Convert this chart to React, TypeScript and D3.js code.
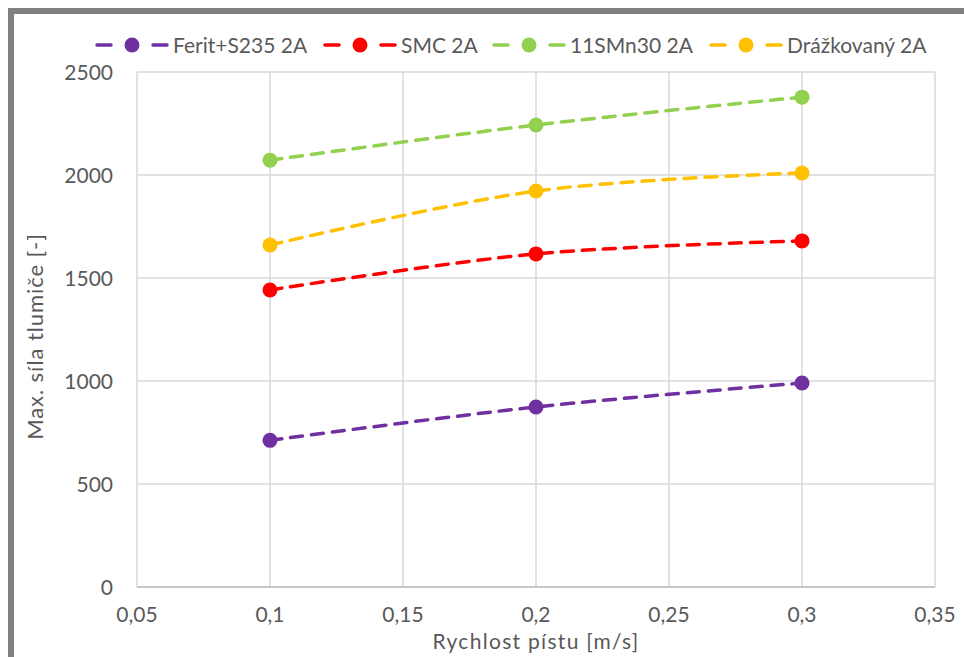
import React from "react";
import * as d3 from "d3";

const speeds = [0.1, 0.2, 0.3];
const seriesNames = ["Ferit+S235 2A", "SMC 2A", "11SMn30 2A", "Drážkovaný 2A"];
const seriesColors = ["#7030A0", "#FF0000", "#92D050", "#FFC000"];
const feritValues = [712, 874, 990];
const smcValues = [1442, 1617, 1680];
const smnValues = [2072, 2243, 2378];
const drazValues = [1660, 1922, 2010];
const xTicks = [0.05, 0.1, 0.15, 0.2, 0.25, 0.3, 0.35];
const yTicks = [0, 500, 1000, 1500, 2000, 2500];

const allValues = [feritValues, smcValues, smnValues, drazValues];

const W = 964;
const H = 657;
const plot = { left: 137, right: 935, top: 72, bottom: 587 };
const FONT = "Lato, 'Open Sans', sans-serif";
const TEXT = "#595959";

export default function App() {
  const x = d3.scaleLinear().domain([0.05, 0.35]).range([plot.left, plot.right]);
  const y = d3.scaleLinear().domain([0, 2500]).range([plot.bottom, plot.top]);
  const line = d3
    .line<[number, number]>()
    .x((d) => x(d[0]))
    .y((d) => y(d[1]))
    .curve(d3.curveCardinal.tension(0));
  const fmt = (v: number) => String(v).replace(".", ",");

  const legendX = [97, 325, 494, 711];

  return (
    <svg
      width={W}
      height={H}
      style={{ position: "absolute", left: 0, top: 0, background: "#fff" }}
      fontFamily={FONT}
    >
      <rect x={11} y={11} width={1100} height={800} fill="#fff" stroke="#808080" strokeWidth={6} />
      {xTicks.map((t) => (
        <line key={"gx" + t} x1={x(t)} x2={x(t)} y1={plot.top} y2={plot.bottom} stroke="#d9d9d9" strokeWidth={1.5} />
      ))}
      {yTicks.map((t) => (
        <line key={"gy" + t} x1={plot.left} x2={plot.right} y1={y(t)} y2={y(t)} stroke="#d9d9d9" strokeWidth={1.5} />
      ))}
      <line x1={plot.left} x2={plot.right} y1={plot.bottom} y2={plot.bottom} stroke="#bfbfbf" strokeWidth={1.5} />
      {yTicks.map((t) => (
        <text key={"ty" + t} x={plot.left - 24} y={y(t) + 7.5} textAnchor="end" fontSize={21} fill={TEXT}>
          {t}
        </text>
      ))}
      {xTicks.map((t) => (
        <text key={"tx" + t} x={x(t)} y={622} textAnchor="middle" fontSize={21} fill={TEXT}>
          {fmt(t)}
        </text>
      ))}
      <text
        x={(plot.left + plot.right) / 2}
        y={649}
        textAnchor="middle"
        fontSize={21}
        letterSpacing={1.3}
        fill={TEXT}
      >
        Rychlost pístu [m/s]
      </text>
      <text
        transform={`translate(35,${(plot.top + plot.bottom) / 2 + 7}) rotate(-90)`}
        dy="0.35em"
        textAnchor="middle"
        fontSize={22}
        letterSpacing={0.9}
        fill={TEXT}
      >
        Max. síla tlumiče [-]
      </text>
      {allValues.map((vals, i) => {
        const pts = speeds.map((s, j) => [s, vals[j]] as [number, number]);
        return (
          <g key={"s" + i}>
            <path
              d={line(pts) || ""}
              fill="none"
              stroke={seriesColors[i]}
              strokeWidth={3.5}
              strokeDasharray="12 9"
              strokeLinecap="round"
            />
            {pts.map((p, j) => (
              <circle key={j} cx={x(p[0])} cy={y(p[1])} r={7.5} fill={seriesColors[i]} />
            ))}
          </g>
        );
      })}
      {seriesNames.map((name, i) => {
        const lx = legendX[i];
        const ly = 45;
        return (
          <g key={"l" + i}>
            <line x1={lx} x2={lx + 14} y1={ly} y2={ly} stroke={seriesColors[i]} strokeWidth={3.5} strokeLinecap="round" />
            <circle cx={lx + 35} cy={ly} r={7.5} fill={seriesColors[i]} />
            <line x1={lx + 56} x2={lx + 70} y1={ly} y2={ly} stroke={seriesColors[i]} strokeWidth={3.5} strokeLinecap="round" />
            <text x={lx + 76} y={ly + 7.5} fontSize={21} fill={TEXT}>
              {name}
            </text>
          </g>
        );
      })}
    </svg>
  );
}
